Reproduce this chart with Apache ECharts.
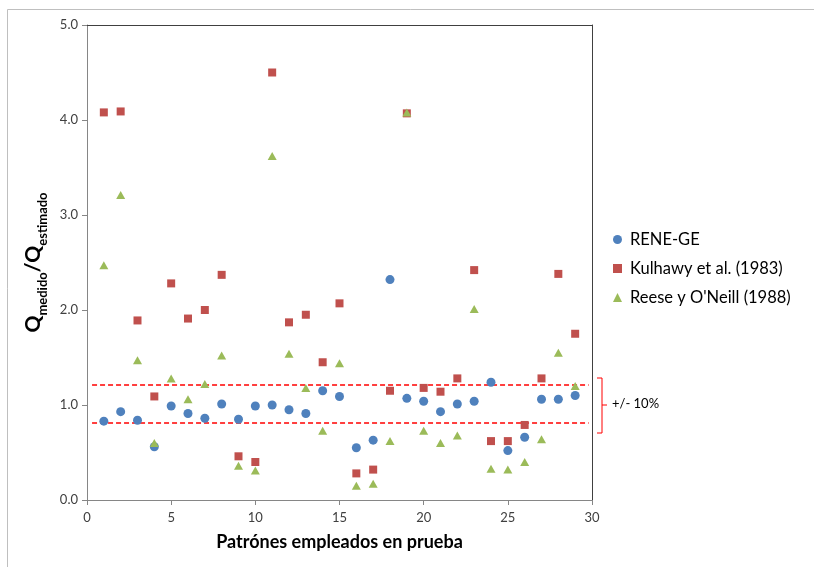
<!DOCTYPE html>
<html>
<head>
<meta charset="utf-8">
<script src="https://cdn.jsdelivr.net/npm/echarts@6/dist/echarts.min.js"></script>
<style>
  html, body { margin: 0; padding: 0; background: #fff; }
  #chart { width: 814px; height: 567px; }
</style>
</head>
<body>
<div id="chart"></div>
<script>
// patrones (eje x)
const patrones = [1, 2, 3, 4, 5, 6, 7, 8, 9, 10, 11, 12, 13, 14, 15, 16, 17, 18, 19, 20, 21, 22, 23, 24, 25, 26, 27, 28, 29];
const reneGE = [0.83, 0.93, 0.84, 0.56, 0.99, 0.91, 0.86, 1.01, 0.85, 0.99, 1.00, 0.95, 0.91, 1.15, 1.09, 0.55, 0.63, 2.32, 1.07, 1.04, 0.93, 1.01, 1.04, 1.24, 0.52, 0.66, 1.06, 1.06, 1.10];
const kulhawy = [4.08, 4.09, 1.89, 1.09, 2.28, 1.91, 2.00, 2.37, 0.46, 0.40, 4.50, 1.87, 1.95, 1.45, 2.07, 0.28, 0.32, 1.15, 4.07, 1.18, 1.14, 1.28, 2.42, 0.62, 0.62, 0.79, 1.28, 2.38, 1.75];
const reese = [2.47, 3.21, 1.47, 0.60, 1.28, 1.06, 1.22, 1.52, 0.36, 0.31, 3.62, 1.54, 1.18, 0.73, 1.44, 0.15, 0.17, 0.62, 4.08, 0.73, 0.60, 0.68, 2.01, 0.33, 0.32, 0.40, 0.64, 1.55, 1.20];
// lineas +/- 10%
const bandaX = [0.3, 29.8];
const bandaSup = 1.21;
const bandaInf = 0.81;

const font = 'Lato, "Open Sans", sans-serif';
const pares = (ys) => patrones.map((x, i) => [x, ys[i]]);

const chart = echarts.init(document.getElementById('chart'));
chart.setOption({
  animation: false,
  backgroundColor: '#fff',
  textStyle: { fontFamily: font },
  grid: { left: 87, right: 222, top: 25, bottom: 67, containLabel: false, outerBoundsMode: 'none' },
  legend: {
    orient: 'vertical',
    left: 608,
    top: 226,
    itemWidth: 9,
    itemHeight: 9,
    itemGap: 12,
    data: ['RENE-GE', 'Kulhawy et al. (1983)', "Reese y O'Neill (1988)"],
    textStyle: { fontFamily: font, fontSize: 16.5, color: '#000', padding: [0, 0, 0, 3] }
  },
  xAxis: [{
    type: 'value', min: 0, max: 30, interval: 5,
    name: 'Patrónes empleados en prueba',
    nameLocation: 'middle', nameGap: 33,
    nameTextStyle: { fontFamily: font, fontSize: 18, fontWeight: 'bold', color: '#000' },
    axisLine: { show: true, lineStyle: { color: '#868686' } },
    axisTick: { show: true, inside: false, length: 5, lineStyle: { color: '#868686' } },
    axisLabel: { fontSize: 13, color: '#404040', margin: 11 },
    splitLine: { show: false }
  }, {
    type: 'value', min: 0, max: 30, position: 'top',
    axisLine: { show: true, onZero: false, lineStyle: { color: '#404040' } },
    axisTick: { show: false }, axisLabel: { show: false }, splitLine: { show: false }
  }],
  yAxis: [{
    type: 'value', min: 0, max: 5, interval: 1,
    name: '{q|Q}{s|medido}{q|/Q}{s|estimado}',
    nameLocation: 'middle', nameGap: 29, nameRotate: 90,
    nameTextStyle: {
      color: '#000',
      rich: {
        q: { fontFamily: font, fontSize: 21, fontWeight: 'bold', lineHeight: 32, color: '#000' },
        s: { fontFamily: font, fontSize: 13, fontWeight: 'bold', lineHeight: 15, verticalAlign: 'bottom', color: '#000' }
      }
    },
    axisLine: { show: true, lineStyle: { color: '#868686' } },
    axisTick: { show: true, inside: false, length: 5, lineStyle: { color: '#868686' } },
    axisLabel: { fontSize: 13, color: '#404040', margin: 9, formatter: (v) => v.toFixed(1) },
    splitLine: { show: false }
  }, {
    type: 'value', min: 0, max: 5, position: 'right',
    axisLine: { show: true, onZero: false, lineStyle: { color: '#404040' } },
    axisTick: { show: false }, axisLabel: { show: false }, splitLine: { show: false }
  }],
  series: [
    {
      name: 'sup', type: 'line', z: 1, symbol: 'none', silent: true,
      data: bandaX.map((x) => [x, bandaSup]),
      lineStyle: { color: '#ff0000', width: 1.5, type: [5, 3] }
    },
    {
      name: 'inf', type: 'line', z: 1, symbol: 'none', silent: true,
      data: bandaX.map((x) => [x, bandaInf]),
      lineStyle: { color: '#ff0000', width: 1.5, type: [5, 3] }
    },
    {
      name: 'RENE-GE', type: 'scatter', z: 2, symbol: 'circle', symbolSize: 9,
      itemStyle: { color: '#4F81BD', opacity: 1 }, data: pares(reneGE)
    },
    {
      name: 'Kulhawy et al. (1983)', type: 'scatter', z: 3, symbol: 'rect', symbolSize: 8,
      itemStyle: { color: '#C0504D', opacity: 1 }, data: pares(kulhawy)
    },
    {
      name: "Reese y O'Neill (1988)", type: 'scatter', z: 4, symbol: 'triangle', symbolSize: [9, 8],
      itemStyle: { color: '#9BBB59', opacity: 1 }, data: pares(reese)
    }
  ],
  graphic: [
    // marco exterior
    { type: 'polyline', shape: { points: [[7.5, 567], [7.5, 9.5], [814, 9.5]] }, style: { stroke: '#bfbfbf', lineWidth: 1, fill: null } },
    // llave +/- 10%
    { type: 'polyline', shape: { points: [[597, 378], [602, 378], [602, 433], [597, 433]] }, style: { stroke: '#ff0000', lineWidth: 1, fill: null } },
    { type: 'line', shape: { x1: 602, y1: 405, x2: 607, y2: 405 }, style: { stroke: '#ff0000', lineWidth: 1 } },
    { type: 'text', left: 612, top: 397, style: { text: '+/- 10%', fontFamily: font, fontSize: 13, fill: '#000' } }
  ]
});
</script>
</body>
</html>
